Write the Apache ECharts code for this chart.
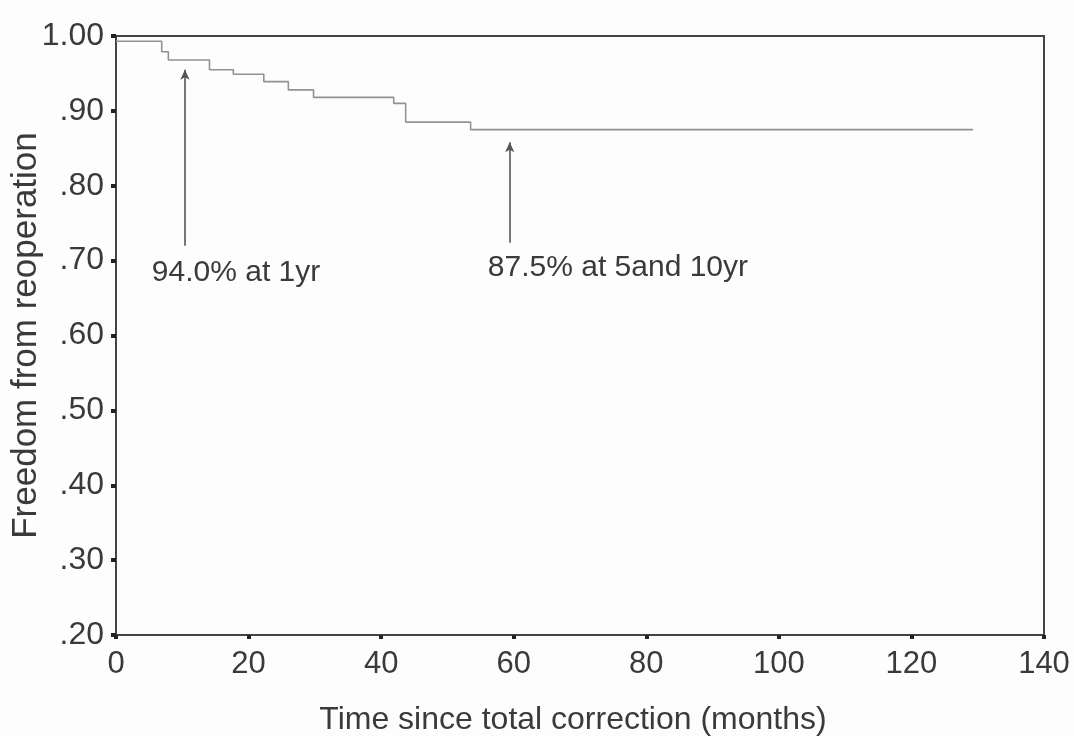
<!DOCTYPE html>
<html>
<head>
<meta charset="utf-8">
<title>Freedom from reoperation</title>
<script src="https://cdn.jsdelivr.net/npm/echarts@6/dist/echarts.min.js"></script>
<style>
  html, body { margin: 0; padding: 0; background: #fdfdfd; }
  #chart { width: 1074px; height: 736px; }
</style>
</head>
<body>
<div id="chart"></div>
<script>
// Kaplan-Meier steps (months, proportion free)
const months  = [0, 6.9, 7.9, 14.1, 17.7, 22.3, 26.0, 29.8, 41.9, 43.7, 53.5, 129.3];
const freedom = [0.993, 0.979, 0.968, 0.955, 0.949, 0.939, 0.928, 0.918, 0.910, 0.885, 0.875, 0.875];

const xTicks = [0, 20, 40, 60, 80, 100, 120, 140];
const yTicks = [0.2, 0.3, 0.4, 0.5, 0.6, 0.7, 0.8, 0.9, 1.0];

// arrows: [x, from y, to y]
const arrows = [
  [10.4, 0.72, 0.955],
  [59.4, 0.724, 0.858],
];
// annotation texts: [x, y, text]
const notes = [
  [5.4, 0.684, '94.0% at 1yr'],
  [56.1, 0.69, '87.5% at 5and 10yr'],
];

const font = '"Liberation Sans", Arial, sans-serif';
const ink = '#3a3a3a';
const axisInk = '#444';

const chart = echarts.init(document.getElementById('chart'));

chart.setOption({
  backgroundColor: '#fdfdfd',
  animation: false,
  textStyle: { fontFamily: font },
  grid: {
    left: 116, right: 30, top: 36, bottom: 101,
    outerBoundsMode: 'none',
    show: true, borderColor: axisInk, borderWidth: 2,
  },
  xAxis: {
    type: 'value',
    min: xTicks[0], max: xTicks[xTicks.length - 1], interval: 20,
    name: 'Time since total correction (months)',
    nameLocation: 'middle', nameGap: 69,
    nameTextStyle: { fontSize: 32, color: ink, fontFamily: font, padding: [0, 14, 0, 0] },
    axisLine: { show: true, lineStyle: { color: axisInk, width: 2 } },
    axisTick: { show: true, length: 4, lineStyle: { color: '#222', width: 4 } },
    axisLabel: { fontSize: 31, color: ink, margin: 14, fontFamily: font },
    splitLine: { show: false },
  },
  yAxis: {
    type: 'value',
    min: yTicks[0], max: yTicks[yTicks.length - 1], interval: 0.1,
    name: 'Freedom from reoperation',
    nameLocation: 'middle', nameGap: 72, nameMoveOverlap: false,
    nameTextStyle: { fontSize: 35, color: ink, fontFamily: font },
    axisLine: { show: true, lineStyle: { color: axisInk, width: 2 } },
    axisTick: { show: true, length: 5, lineStyle: { color: '#222', width: 4 } },
    axisLabel: {
      fontSize: 32, color: ink, margin: 12, fontFamily: font,
      formatter: v => v >= 0.999 ? '1.00' : v.toFixed(2).replace(/^0/, ''),
    },
    splitLine: { show: false },
  },
  series: [{
    type: 'line',
    step: 'end',
    data: months.map((m, i) => [m, freedom[i]]),
    showSymbol: false,
    lineStyle: { color: '#929292', width: 1.6 },
    markLine: {
      silent: true,
      symbol: ['none', 'arrow'],
      symbolSize: [7, 10],
      label: { show: false },
      lineStyle: { color: '#555', width: 1.6, type: 'solid' },
      data: arrows.map(a => [{ coord: [a[0], a[1]] }, { coord: [a[0], a[2]] }]),
    },
    markPoint: {
      silent: true,
      symbol: 'circle',
      symbolSize: 0,
      label: {
        show: true, position: 'right', distance: 0,
        fontSize: 30, color: ink, fontFamily: font,
        formatter: p => p.name,
      },
      data: notes.map(n => ({ name: n[2], coord: [n[0], n[1]] })),
    },
  }],
});
</script>
</body>
</html>
